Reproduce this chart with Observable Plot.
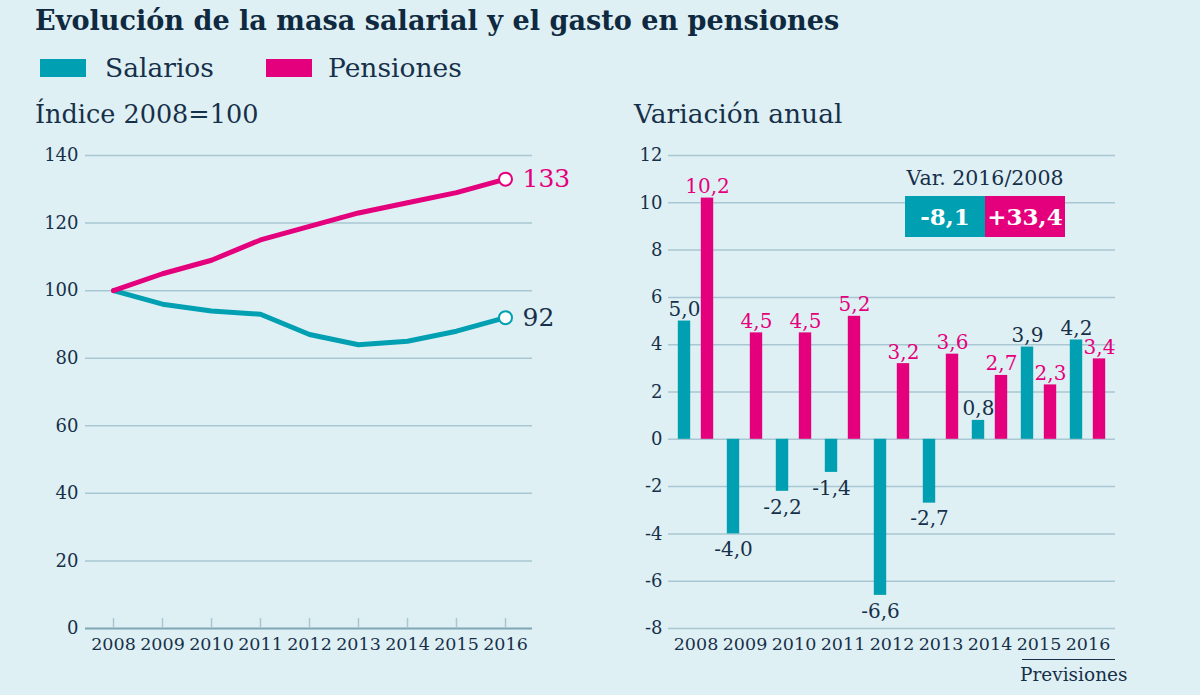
<!DOCTYPE html>
<html><head><meta charset="utf-8">
<script src="https://cdn.jsdelivr.net/npm/d3@7"></script>
<script src="https://cdn.jsdelivr.net/npm/@observablehq/plot@0.6"></script>
<style>
html,body{margin:0;padding:0;background:#dff0f4;}
#root{position:relative;width:1200px;height:695px;background:#dff0f4;font-family:"DejaVu Serif",serif;color:#17304a;overflow:hidden}
.abs{position:absolute;white-space:nowrap;line-height:1}
.panel{position:absolute;top:140px}
</style></head><body><div id="root"></div>
<script>
// ---- data ----
const years = [2008, 2009, 2010, 2011, 2012, 2013, 2014, 2015, 2016];
const seriesNames = ["Salarios", "Pensiones"];
const indexSalarios = [100, 96, 94, 93, 87, 84, 85, 88, 92];
const indexPensiones = [100, 105, 109, 115, 119, 123, 126, 129, 133];
const varSalarios = [5.0, -4.0, -2.2, -1.4, -6.6, -2.7, 0.8, 3.9, 4.2];
const varPensiones = [10.2, 4.5, 4.5, 5.2, 3.2, 3.6, 2.7, 2.3, 3.4];
const totalVar = [-8.1, 33.4];
const leftTicks = [0, 20, 40, 60, 80, 100, 120, 140];
const rightTicks = [-8, -6, -4, -2, 0, 2, 4, 6, 8, 10, 12];
const titleText = "Evolución de la masa salarial y el gasto en pensiones";
const leftSubtitle = "Índice 2008=100";
const rightSubtitle = "Variación anual";
const boxTitle = "Var. 2016/2008";
const forecastLabel = "Previsiones";

// ---- style ----
const TEAL = "#00a0b2", PINK = "#e4007c", DARK = "#17304a", GRID = "#a9c7d2", AXIS = "#7fa6b4";
const FONT = "DejaVu Serif, serif";
const fmt = v => v.toFixed(1).replace(".", ",");
const fmtSigned = v => (v > 0 ? "+" : "") + fmt(v);

const root = document.getElementById("root");
function addText(txt, css) {
  const d = document.createElement("div");
  d.className = "abs";
  d.textContent = txt;
  Object.assign(d.style, css);
  root.appendChild(d);
  return d;
}

// title & legend
addText(titleText, {left: "35px", top: "7px", fontSize: "27.1px", fontWeight: "bold", color: "#0f2a40"});
const legendX = [{sw: 40, tx: 105}, {sw: 266, tx: 328}];
seriesNames.forEach((s, i) => {
  const sw = document.createElement("div");
  sw.className = "abs";
  Object.assign(sw.style, {left: legendX[i].sw + "px", top: "59px", width: "46px", height: "18px", background: i ? PINK : TEAL});
  root.appendChild(sw);
  addText(s, {left: legendX[i].tx + "px", top: "55px", fontSize: "26.5px", color: DARK});
});
addText(leftSubtitle, {left: "35px", top: "102px", fontSize: "25.5px", color: DARK});
addText(rightSubtitle, {left: "634px", top: "101px", fontSize: "26.5px", color: DARK});

// ---- left panel: index lines ----
const lineData = years.flatMap((y, i) => [
  {year: y, serie: "Salarios", value: indexSalarios[i]},
  {year: y, serie: "Pensiones", value: indexPensiones[i]}
]);
const lastPts = lineData.filter(d => d.year === years[years.length - 1]);

const left = Plot.plot({
  width: 600, height: 530,
  marginTop: 15, marginBottom: 42, marginLeft: 85, marginRight: 68,
  style: {background: "transparent", fontFamily: FONT, color: DARK, overflow: "visible"},
  x: {type: "point", domain: years, padding: 0.5},
  y: {domain: [0, 140]},
  color: {domain: seriesNames, range: [TEAL, PINK]},
  marks: [
    Plot.ruleY(leftTicks.filter(d => d > 0), {stroke: GRID, strokeWidth: 1.5}),
    Plot.ruleY([0], {stroke: AXIS, strokeWidth: 2}),
    Plot.ruleX(years, {x: d => d, y1: 0, y2: 0, insetTop: -10, stroke: GRID, strokeWidth: 1.5}),
    Plot.axisY(leftTicks, {tickSize: 0, tickPadding: 7, fontSize: 18, tickFormat: d => String(d), label: null, fill: DARK}),
    Plot.axisX(years, {tickSize: 0, tickPadding: 9, fontSize: 17.5, tickFormat: d => String(d), label: null, fill: DARK}),
    Plot.line(lineData, {x: "year", y: "value", z: "serie", stroke: "serie", strokeWidth: 5, strokeLinejoin: "round", strokeLinecap: "round"}),
    Plot.dot(lastPts, {x: "year", y: "value", r: 6.5, fill: "white", stroke: "serie", strokeWidth: 2}),
    Plot.text(lastPts, {x: "year", y: "value", text: d => String(d.value), dx: 17, textAnchor: "start", fontSize: 25,
      fill: d => d.serie === "Pensiones" ? PINK : DARK})
  ]
});
left.classList.add("panel");
left.style.left = "0px";
root.appendChild(left);

// ---- right panel: annual variation bars ----
const sal = years.map((y, i) => ({year: y, serie: "Salarios", value: varSalarios[i]}));
const pen = years.map((y, i) => ({year: y, serie: "Pensiones", value: varPensiones[i]}));
const OFF = 11.5, INS = 18.3;
function labels(data, dx, color) {
  return [
    Plot.text(data.filter(d => d.value >= 0), {x: "year", y: "value", text: d => fmt(d.value), dx, dy: -5, lineAnchor: "bottom", fontSize: 20, fill: color}),
    Plot.text(data.filter(d => d.value < 0), {x: "year", y: "value", text: d => fmt(d.value), dx, dy: 8, lineAnchor: "top", fontSize: 20, fill: color})
  ];
}
const right = Plot.plot({
  width: 600, height: 530,
  marginTop: 15, marginBottom: 42, marginLeft: 68, marginRight: 85,
  style: {background: "transparent", fontFamily: FONT, color: DARK, overflow: "visible"},
  x: {type: "band", domain: years, padding: 0},
  y: {domain: [-8, 12]},
  marks: [
    Plot.ruleY(rightTicks, {stroke: GRID, strokeWidth: 1.5}),
    Plot.axisY(rightTicks, {tickSize: 0, tickPadding: 6, fontSize: 18, tickFormat: d => String(d), label: null, fill: DARK}),
    Plot.axisX(years, {tickSize: 0, tickPadding: 9, fontSize: 17.5, tickFormat: d => String(d), label: null, fill: DARK}),
    Plot.barY(sal, {x: "year", y: "value", fill: TEAL, dx: -OFF, insetLeft: INS, insetRight: INS}),
    Plot.barY(pen, {x: "year", y: "value", fill: PINK, dx: OFF, insetLeft: INS, insetRight: INS}),
    ...labels(sal, -OFF, DARK),
    ...labels(pen, OFF, PINK)
  ]
});
right.classList.add("panel");
right.style.left = "600px";
root.appendChild(right);

// ---- total variation box ----
addText(boxTitle, {left: "900px", width: "170px", textAlign: "center", top: "168px", fontSize: "20.5px", color: DARK});
totalVar.forEach((v, i) => {
  const b = document.createElement("div");
  b.className = "abs";
  Object.assign(b.style, {left: (905 + i * 80) + "px", top: "196px", width: "80px", height: "41px",
    background: i ? PINK : TEAL, color: "white", fontWeight: "bold", fontSize: "23px",
    display: "flex", alignItems: "center", justifyContent: "center"});
  b.textContent = fmtSigned(v);
  root.appendChild(b);
});

// ---- forecast marker ----
const fl = document.createElement("div");
fl.className = "abs";
Object.assign(fl.style, {left: "1022px", top: "659px", width: "93px", height: "0px", borderTop: "1.5px solid " + DARK});
root.appendChild(fl);
addText(forecastLabel, {left: "1020px", top: "666px", fontSize: "18.5px", color: DARK});
</script></body></html>
